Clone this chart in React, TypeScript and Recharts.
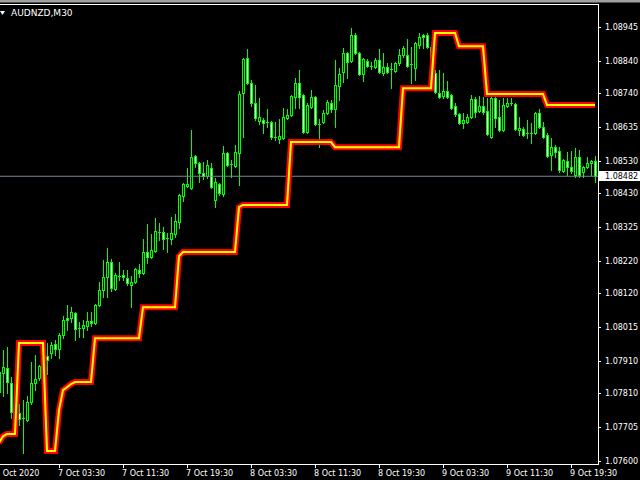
import { ComposedChart, Bar, Line, XAxis, YAxis, ReferenceLine } from 'recharts'

// M30 bars, 6 Oct 2020 20:00 -> 9 Oct 2020 22:30
const OPEN = [
  1.07813, 1.07872, 1.07887, 1.07841, 1.07751, 1.07748, 1.07732, 1.07726, 1.07782, 1.07841,
  1.07856, 1.07893, 1.07924, 1.07934, 1.07962, 1.07946, 1.07990, 1.08042, 1.08042, 1.08058,
  1.08008, 1.08011, 1.08017, 1.08033, 1.08027, 1.08082, 1.08129, 1.08169, 1.08216, 1.08132,
  1.08172, 1.08176, 1.08166, 1.08145, 1.08154, 1.08191, 1.08182, 1.08247, 1.08231, 1.08250,
  1.08309, 1.08309, 1.08290, 1.08287, 1.08303, 1.08340, 1.08420, 1.08451, 1.08445, 1.08544,
  1.08523, 1.08492, 1.08482, 1.08507, 1.08408, 1.08458, 1.08427, 1.08554, 1.08520, 1.08513,
  1.08554, 1.08740, 1.08848, 1.08771, 1.08709, 1.08653, 1.08656, 1.08650, 1.08650, 1.08603,
  1.08597, 1.08600, 1.08662, 1.08672, 1.08727, 1.08771, 1.08734, 1.08619, 1.08696, 1.08727,
  1.08644, 1.08650, 1.08678, 1.08709, 1.08690, 1.08761, 1.08805, 1.08864, 1.08839, 1.08920,
  1.08864, 1.08799, 1.08839, 1.08823, 1.08820, 1.08842, 1.08802, 1.08820, 1.08814, 1.08808,
  1.08833, 1.08858, 1.08858, 1.08830, 1.08817, 1.08889, 1.08920, 1.08920, 1.08882, 1.08802,
  1.08740, 1.08730, 1.08746, 1.08734, 1.08699, 1.08675, 1.08647, 1.08650, 1.08665, 1.08721,
  1.08684, 1.08699, 1.08684, 1.08603, 1.08724, 1.08665, 1.08625, 1.08699, 1.08709, 1.08706,
  1.08625, 1.08628, 1.08616, 1.08613, 1.08616, 1.08678, 1.08634, 1.08610, 1.08548, 1.08572,
  1.08560, 1.08498, 1.08529, 1.08510, 1.08486, 1.08541, 1.08495, 1.08510, 1.08523, 1.08529,
]
const HIGH = [
  1.07896, 1.07943, 1.07952, 1.07859, 1.07779, 1.07776, 1.07788, 1.07800, 1.07906, 1.07928,
  1.07896, 1.07943, 1.07965, 1.07968, 1.07974, 1.07996, 1.08048, 1.08082, 1.08076, 1.08061,
  1.08030, 1.08036, 1.08061, 1.08061, 1.08086, 1.08154, 1.08222, 1.08259, 1.08225, 1.08182,
  1.08216, 1.08191, 1.08191, 1.08172, 1.08197, 1.08210, 1.08287, 1.08334, 1.08303, 1.08352,
  1.08337, 1.08324, 1.08306, 1.08355, 1.08365, 1.08427, 1.08461, 1.08507, 1.08625, 1.08548,
  1.08526, 1.08526, 1.08532, 1.08523, 1.08476, 1.08461, 1.08575, 1.08557, 1.08532, 1.08579,
  1.08746, 1.08848, 1.08876, 1.08780, 1.08765, 1.08724, 1.08662, 1.08690, 1.08653, 1.08650,
  1.08659, 1.08693, 1.08690, 1.08734, 1.08786, 1.08811, 1.08737, 1.08709, 1.08749, 1.08730,
  1.08659, 1.08687, 1.08718, 1.08718, 1.08842, 1.08817, 1.08879, 1.08867, 1.08941, 1.08926,
  1.08867, 1.08848, 1.08845, 1.08836, 1.08848, 1.08876, 1.08864, 1.08833, 1.08833, 1.08836,
  1.08876, 1.08885, 1.08907, 1.08882, 1.08898, 1.08926, 1.08923, 1.08926, 1.08889, 1.08811,
  1.08811, 1.08802, 1.08777, 1.08737, 1.08709, 1.08678, 1.08678, 1.08675, 1.08734, 1.08727,
  1.08730, 1.08727, 1.08724, 1.08727, 1.08727, 1.08718, 1.08724, 1.08724, 1.08724, 1.08709,
  1.08665, 1.08634, 1.08656, 1.08647, 1.08681, 1.08690, 1.08650, 1.08616, 1.08600, 1.08579,
  1.08572, 1.08535, 1.08557, 1.08560, 1.08569, 1.08563, 1.08513, 1.08541, 1.08532, 1.08544,
]
const LOW = [
  1.07794, 1.07800, 1.07810, 1.07732, 1.07742, 1.07711, 1.07624, 1.07723, 1.07776, 1.07819,
  1.07850, 1.07887, 1.07869, 1.07918, 1.07928, 1.07918, 1.07980, 1.08005, 1.08030, 1.07974,
  1.07983, 1.07983, 1.08005, 1.08017, 1.08024, 1.08079, 1.08107, 1.08107, 1.08126, 1.08129,
  1.08160, 1.08160, 1.08145, 1.08076, 1.08151, 1.08169, 1.08179, 1.08213, 1.08228, 1.08247,
  1.08284, 1.08256, 1.08247, 1.08272, 1.08293, 1.08321, 1.08405, 1.08448, 1.08442, 1.08510,
  1.08464, 1.08473, 1.08476, 1.08445, 1.08386, 1.08424, 1.08420, 1.08513, 1.08479, 1.08510,
  1.08455, 1.08603, 1.08768, 1.08699, 1.08656, 1.08644, 1.08616, 1.08634, 1.08597, 1.08594,
  1.08585, 1.08597, 1.08659, 1.08668, 1.08693, 1.08693, 1.08616, 1.08616, 1.08693, 1.08641,
  1.08572, 1.08647, 1.08675, 1.08681, 1.08634, 1.08718, 1.08774, 1.08786, 1.08836, 1.08861,
  1.08796, 1.08777, 1.08820, 1.08814, 1.08817, 1.08802, 1.08796, 1.08802, 1.08755, 1.08805,
  1.08827, 1.08851, 1.08820, 1.08771, 1.08780, 1.08879, 1.08879, 1.08879, 1.08792, 1.08740,
  1.08724, 1.08724, 1.08724, 1.08690, 1.08668, 1.08644, 1.08631, 1.08647, 1.08662, 1.08665,
  1.08681, 1.08675, 1.08610, 1.08600, 1.08634, 1.08622, 1.08622, 1.08696, 1.08703, 1.08625,
  1.08610, 1.08606, 1.08600, 1.08585, 1.08613, 1.08631, 1.08600, 1.08541, 1.08501, 1.08541,
  1.08495, 1.08495, 1.08486, 1.08492, 1.08479, 1.08479, 1.08479, 1.08507, 1.08486, 1.08464,
]
const CLOSE = [
  1.07875, 1.07890, 1.07844, 1.07751, 1.07769, 1.07729, 1.07729, 1.07782, 1.07841, 1.07853,
  1.07893, 1.07924, 1.07912, 1.07958, 1.07946, 1.07990, 1.08036, 1.08036, 1.08061, 1.08008,
  1.08011, 1.08020, 1.08033, 1.08027, 1.08082, 1.08129, 1.08169, 1.08216, 1.08135, 1.08176,
  1.08171, 1.08169, 1.08151, 1.08154, 1.08194, 1.08182, 1.08247, 1.08231, 1.08253, 1.08312,
  1.08306, 1.08287, 1.08287, 1.08306, 1.08343, 1.08424, 1.08458, 1.08458, 1.08541, 1.08523,
  1.08492, 1.08482, 1.08517, 1.08448, 1.08464, 1.08430, 1.08554, 1.08517, 1.08517, 1.08557,
  1.08737, 1.08845, 1.08771, 1.08709, 1.08662, 1.08665, 1.08647, 1.08647, 1.08603, 1.08601,
  1.08606, 1.08665, 1.08672, 1.08730, 1.08771, 1.08727, 1.08619, 1.08703, 1.08727, 1.08644,
  1.08641, 1.08678, 1.08712, 1.08690, 1.08765, 1.08799, 1.08864, 1.08836, 1.08920, 1.08864,
  1.08799, 1.08845, 1.08823, 1.08820, 1.08842, 1.08805, 1.08820, 1.08805, 1.08811, 1.08833,
  1.08858, 1.08879, 1.08823, 1.08827, 1.08895, 1.08913, 1.08913, 1.08882, 1.08805, 1.08743,
  1.08727, 1.08746, 1.08727, 1.08693, 1.08675, 1.08647, 1.08656, 1.08665, 1.08721, 1.08681,
  1.08699, 1.08681, 1.08613, 1.08724, 1.08662, 1.08625, 1.08703, 1.08709, 1.08706, 1.08628,
  1.08631, 1.08609, 1.08614, 1.08616, 1.08678, 1.08634, 1.08603, 1.08544, 1.08572, 1.08557,
  1.08501, 1.08532, 1.08510, 1.08498, 1.08541, 1.08486, 1.08510, 1.08523, 1.08529, 1.08482,
]
// stepped indicator line
const LEVEL = [
  1.07655, 1.07676, 1.07683, 1.07683, 1.07683, 1.07965, 1.07965, 1.07965, 1.07965, 1.07965,
  1.07965, 1.07965, 1.07630, 1.07630, 1.07630, 1.07757, 1.07819, 1.07828, 1.07838, 1.07844,
  1.07844, 1.07844, 1.07844, 1.07844, 1.07980, 1.07980, 1.07980, 1.07980, 1.07980, 1.07980,
  1.07980, 1.07980, 1.07980, 1.07980, 1.07980, 1.07980, 1.08076, 1.08076, 1.08076, 1.08076,
  1.08076, 1.08076, 1.08076, 1.08076, 1.08076, 1.08234, 1.08247, 1.08247, 1.08247, 1.08247,
  1.08247, 1.08247, 1.08247, 1.08247, 1.08247, 1.08247, 1.08247, 1.08247, 1.08247, 1.08247,
  1.08386, 1.08393, 1.08393, 1.08393, 1.08393, 1.08393, 1.08393, 1.08393, 1.08393, 1.08393,
  1.08393, 1.08393, 1.08393, 1.08588, 1.08588, 1.08588, 1.08588, 1.08588, 1.08588, 1.08588,
  1.08588, 1.08588, 1.08588, 1.08588, 1.08572, 1.08572, 1.08572, 1.08572, 1.08572, 1.08572,
  1.08572, 1.08572, 1.08572, 1.08572, 1.08572, 1.08572, 1.08572, 1.08572, 1.08572, 1.08572,
  1.08572, 1.08755, 1.08755, 1.08755, 1.08755, 1.08755, 1.08755, 1.08755, 1.08755, 1.08926,
  1.08926, 1.08926, 1.08926, 1.08926, 1.08926, 1.08885, 1.08885, 1.08885, 1.08885, 1.08885,
  1.08885, 1.08885, 1.08737, 1.08737, 1.08737, 1.08737, 1.08737, 1.08737, 1.08737, 1.08737,
  1.08737, 1.08737, 1.08737, 1.08737, 1.08737, 1.08737, 1.08737, 1.08703, 1.08703, 1.08703,
  1.08703, 1.08703, 1.08703, 1.08703, 1.08703, 1.08703, 1.08703, 1.08703, 1.08703, 1.08703,
]

const PRICE_TICKS = [
  1.08945, 1.0884, 1.0874, 1.08635, 1.0853, 1.08482, 1.0843, 1.08325, 1.0822,
  1.0812, 1.08015, 1.0791, 1.0781, 1.07705, 1.076,
]
const CURRENT_PRICE = 1.08482
const TIME_TICKS = [
  '6 Oct 20:00', '7 Oct 03:30', '7 Oct 11:30', '7 Oct 19:30', '8 Oct 03:30',
  '8 Oct 11:30', '8 Oct 19:30', '9 Oct 03:30', '9 Oct 11:30', '9 Oct 19:30',
]
const FIRST_LABEL = '6 Oct 2020'

const LIME = '#00ff00'
const FONT = 'DejaVu Sans'

const pad = (n: number) => String(n).padStart(2, '0')

const data = OPEN.map((open, k) => {
  const m = 20 * 60 + 30 * k
  const day = 6 + Math.floor(m / 1440)
  const hm = m % 1440
  return {
    t: `${day} Oct ${pad(Math.floor(hm / 60))}:${pad(hm % 60)}`,
    open,
    high: HIGH[k],
    low: LOW[k],
    close: CLOSE[k],
    range: [LOW[k], HIGH[k]],
    level: LEVEL[k],
  }
})

function Candle(props: any) {
  const { x, y, width, height, payload } = props
  if (x == null || y == null || !payload) return null
  const { open, high, low, close } = payload
  const top = Math.min(y, y + height)
  const h = Math.abs(height)
  const k = high > low ? h / (high - low) : 0
  const cx = Math.floor(x + width / 2)
  const yOf = (v: number) => top + (high - v) * k
  const wTop = Math.round(top)
  const wBot = Math.round(top + h)
  const bTop = Math.round(yOf(Math.max(open, close)))
  const bBot = Math.round(yOf(Math.min(open, close)))
  const fill = close < open ? '#ffffff' : '#000000'
  return (
    <g shapeRendering="crispEdges">
      <rect x={cx} y={wTop} width={1} height={wBot - wTop + 1} fill={LIME} />
      {bBot - bTop < 2 ? (
        <rect x={cx - 1} y={bTop} width={3} height={1} fill={LIME} />
      ) : (
        <>
          <rect x={cx - 1} y={bTop} width={3} height={bBot - bTop + 1} fill={LIME} />
          <rect x={cx} y={bTop + 1} width={1} height={bBot - bTop - 1} fill={fill} />
        </>
      )}
    </g>
  )
}

function TimeTick(props: any) {
  const { x, y, payload } = props
  const first = payload.value === TIME_TICKS[0]
  return (
    <g>
      {!first && (
        <line x1={x + 0.5} x2={x + 0.5} y1={y + 1} y2={y + 4} stroke="#fff" shapeRendering="crispEdges" />
      )}
      <text x={first ? x - 4 : x - 1} y={y + 12} fill="#fff" fontSize={8} fontFamily={FONT} textAnchor="start">
        {first ? FIRST_LABEL : payload.value}
      </text>
    </g>
  )
}

function PriceTick(props: any) {
  const { x, y, payload } = props
  const v = payload.value as number
  const ry = Math.round(y)
  if (v === CURRENT_PRICE) {
    return (
      <g>
        <rect x={x + 1} y={ry - 5} width={42} height={10} fill="#fff" />
        <text x={x + 7} y={ry + 3} fill="#000" fontSize={8} fontFamily={FONT}>{v.toFixed(5)}</text>
      </g>
    )
  }
  return (
    <g>
      <line x1={x} x2={x + 3} y1={ry + 0.5} y2={ry + 0.5} stroke="#fff" />
      <text x={x + 7} y={ry + 3} fill="#fff" fontSize={8} fontFamily={FONT}>{v.toFixed(5)}</text>
    </g>
  )
}

export default function App() {
  return (
    <div style={{ position: 'fixed', left: 0, top: 0, width: 640, height: 480, background: '#000', overflow: 'hidden' }}>
      <div style={{ position: 'absolute', left: -4, top: 0 }}>
        <ComposedChart width={644} height={480} data={data} margin={{ top: 4, right: 0, bottom: 0, left: 1 }}>
          <XAxis
            dataKey="t"
            ticks={TIME_TICKS}
            interval={0}
            height={16}
            padding={{ left: 0, right: 1 }}
            axisLine={false}
            tickLine={false}
            tickSize={0}
            tickMargin={0}
            tick={<TimeTick />}
          />
          <YAxis
            orientation="right"
            type="number"
            domain={[1.0759, 1.09016]}
            allowDataOverflow
            ticks={PRICE_TICKS}
            interval={0}
            width={42}
            axisLine={false}
            tickLine={false}
            tickSize={0}
            tickMargin={0}
            tick={<PriceTick />}
          />
          <ReferenceLine y={CURRENT_PRICE} stroke="#778899" strokeWidth={1} />
          <Bar dataKey="range" barSize={3} shape={<Candle />} isAnimationActive={false} />
          <Line type="linear" dataKey="level" stroke="#ff0000" strokeWidth={6} dot={false} activeDot={false} isAnimationActive={false} />
          <Line type="linear" dataKey="level" stroke="#ffff00" strokeWidth={2} dot={false} activeDot={false} isAnimationActive={false} />
        </ComposedChart>
      </div>
      <svg width={640} height={480} style={{ position: 'absolute', left: 0, top: 0, pointerEvents: 'none' }}>
        <rect x={0} y={0} width={640} height={2.5} fill="#a0a0a0" />
        <g stroke="#fff" strokeWidth={1} shapeRendering="crispEdges">
          <line x1={0} x2={599} y1={4.5} y2={4.5} />
          <line x1={598.5} x2={598.5} y1={4} y2={465} />
          <line x1={0} x2={599} y1={464.5} y2={464.5} />
        </g>
        <polygon points="0,11 5,11 2.5,15" fill="#fff" />
        <text x={11} y={16} fill="#fff" fontSize={9} fontFamily={FONT}>AUDNZD,M30</text>
      </svg>
    </div>
  )
}
